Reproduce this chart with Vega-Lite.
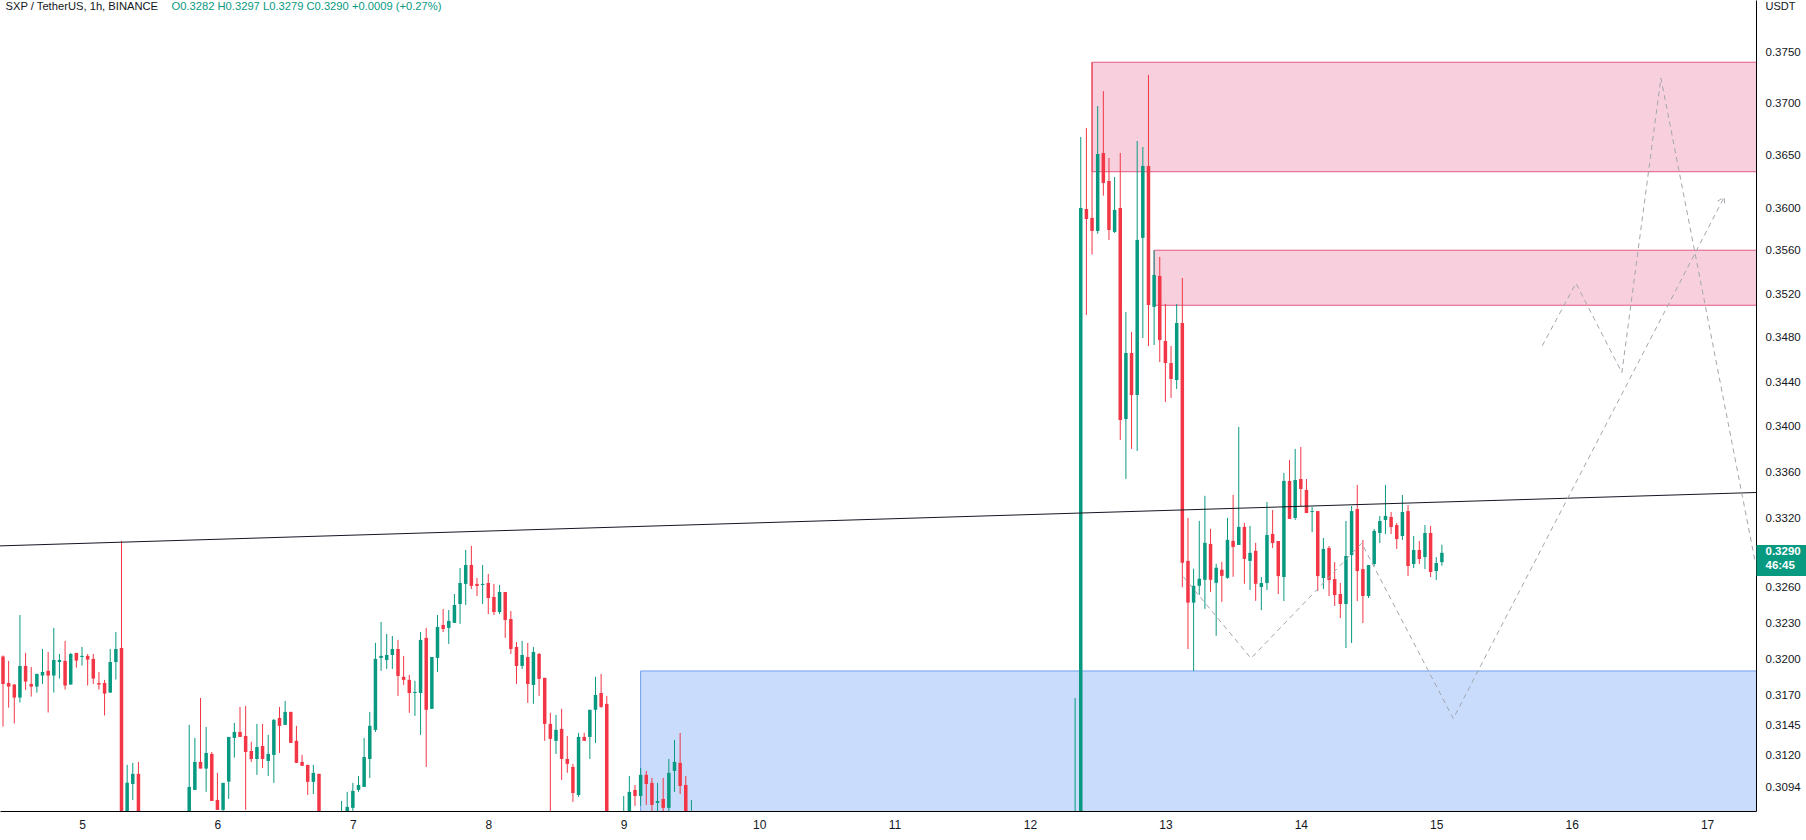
{
  "$schema": "https://vega.github.io/schema/vega-lite/v6.json",
  "width": 1756,
  "height": 811,
  "autosize": {"type": "none"},
  "padding": {"left": 0, "top": 0, "right": 50, "bottom": 29},
  "background": "#ffffff",
  "config": {"view": {"stroke": null}, "font": "Liberation Sans"},
  "datasets": {
    "candles": [
      {"t":"2022-09-04T10:00","open":0.3202,"high":0.3203,"low":0.3144,"close":0.31792},
      {"t":"2022-09-04T11:00","open":0.318,"high":0.31984,"low":0.31596,"close":0.3177},
      {"t":"2022-09-04T12:00","open":0.31787,"high":0.31792,"low":0.31465,"close":0.31679},
      {"t":"2022-09-04T13:00","open":0.31679,"high":0.3237,"low":0.31638,"close":0.31942},
      {"t":"2022-09-04T14:00","open":0.31942,"high":0.32051,"low":0.31743,"close":0.31812},
      {"t":"2022-09-04T15:00","open":0.31792,"high":0.31934,"low":0.31687,"close":0.3177},
      {"t":"2022-09-04T16:00","open":0.3177,"high":0.31876,"low":0.3172,"close":0.31876},
      {"t":"2022-09-04T17:00","open":0.31862,"high":0.32084,"low":0.31792,"close":0.31892},
      {"t":"2022-09-04T18:00","open":0.31901,"high":0.32059,"low":0.31556,"close":0.31862},
      {"t":"2022-09-04T19:00","open":0.31862,"high":0.32261,"low":0.3172,"close":0.31992},
      {"t":"2022-09-04T20:00","open":0.31975,"high":0.32042,"low":0.31837,"close":0.31992},
      {"t":"2022-09-04T21:00","open":0.31984,"high":0.32152,"low":0.31745,"close":0.31779},
      {"t":"2022-09-04T22:00","open":0.31787,"high":0.32051,"low":0.31787,"close":0.32042},
      {"t":"2022-09-04T23:00","open":0.32051,"high":0.32051,"low":0.31928,"close":0.31987},
      {"t":"2022-09-05T00:00","open":0.32017,"high":0.32101,"low":0.31945,"close":0.32026},
      {"t":"2022-09-05T01:00","open":0.32026,"high":0.32042,"low":0.31779,"close":0.31995},
      {"t":"2022-09-05T02:00","open":0.32001,"high":0.32042,"low":0.31792,"close":0.31837},
      {"t":"2022-09-05T03:00","open":0.318,"high":0.31892,"low":0.31745,"close":0.31787},
      {"t":"2022-09-05T04:00","open":0.318,"high":0.31826,"low":0.31531,"close":0.31712},
      {"t":"2022-09-05T05:00","open":0.3172,"high":0.32084,"low":0.3172,"close":0.31975},
      {"t":"2022-09-05T06:00","open":0.31975,"high":0.32227,"low":0.31829,"close":0.32084},
      {"t":"2022-09-05T07:00","open":0.32093,"high":0.33004,"low":0.304,"close":0.305},
      {"t":"2022-09-05T08:00","open":0.305,"high":0.31127,"low":0.3045,"close":0.30981},
      {"t":"2022-09-05T09:00","open":0.30972,"high":0.31143,"low":0.30843,"close":0.31054},
      {"t":"2022-09-05T10:00","open":0.31054,"high":0.31151,"low":0.305,"close":0.306},
      {"t":"2022-09-05T19:00","open":0.307,"high":0.31454,"low":0.306,"close":0.30948},
      {"t":"2022-09-05T20:00","open":0.30924,"high":0.31347,"low":0.30924,"close":0.31151},
      {"t":"2022-09-05T21:00","open":0.31151,"high":0.31676,"low":0.31097,"close":0.31097},
      {"t":"2022-09-05T22:00","open":0.31097,"high":0.31437,"low":0.30908,"close":0.31224},
      {"t":"2022-09-05T23:00","open":0.31216,"high":0.31232,"low":0.30835,"close":0.30835},
      {"t":"2022-09-06T00:00","open":0.30843,"high":0.31062,"low":0.30763,"close":0.30763},
      {"t":"2022-09-06T01:00","open":0.30763,"high":0.30981,"low":0.30755,"close":0.30981},
      {"t":"2022-09-06T02:00","open":0.30991,"high":0.31355,"low":0.30851,"close":0.31355},
      {"t":"2022-09-06T03:00","open":0.31347,"high":0.3147,"low":0.31186,"close":0.31396},
      {"t":"2022-09-06T04:00","open":0.31396,"high":0.31602,"low":0.31355,"close":0.31355},
      {"t":"2022-09-06T05:00","open":0.31363,"high":0.3161,"low":0.30763,"close":0.31232},
      {"t":"2022-09-06T06:00","open":0.3124,"high":0.31315,"low":0.31151,"close":0.31175},
      {"t":"2022-09-06T07:00","open":0.31175,"high":0.31462,"low":0.31046,"close":0.31273},
      {"t":"2022-09-06T08:00","open":0.31281,"high":0.31462,"low":0.31102,"close":0.31175},
      {"t":"2022-09-06T09:00","open":0.31159,"high":0.31372,"low":0.31037,"close":0.31216},
      {"t":"2022-09-06T10:00","open":0.31208,"high":0.31503,"low":0.30981,"close":0.31495},
      {"t":"2022-09-06T11:00","open":0.31511,"high":0.31602,"low":0.31224,"close":0.31446},
      {"t":"2022-09-06T12:00","open":0.31454,"high":0.31651,"low":0.31454,"close":0.31561},
      {"t":"2022-09-06T13:00","open":0.31561,"high":0.31561,"low":0.31306,"close":0.31306},
      {"t":"2022-09-06T14:00","open":0.31323,"high":0.31446,"low":0.31143,"close":0.31143},
      {"t":"2022-09-06T15:00","open":0.31151,"high":0.31208,"low":0.31119,"close":0.31119},
      {"t":"2022-09-06T16:00","open":0.31127,"high":0.31127,"low":0.30883,"close":0.30989},
      {"t":"2022-09-06T17:00","open":0.30989,"high":0.31127,"low":0.30891,"close":0.31062},
      {"t":"2022-09-06T18:00","open":0.31054,"high":0.31054,"low":0.304,"close":0.305},
      {"t":"2022-09-06T22:00","open":0.3058,"high":0.30835,"low":0.3052,"close":0.3068},
      {"t":"2022-09-06T23:00","open":0.3068,"high":0.30908,"low":0.3062,"close":0.30787},
      {"t":"2022-09-07T00:00","open":0.30779,"high":0.30981,"low":0.307,"close":0.30916},
      {"t":"2022-09-07T01:00","open":0.30924,"high":0.31037,"low":0.30908,"close":0.30964},
      {"t":"2022-09-07T02:00","open":0.30948,"high":0.31347,"low":0.30948,"close":0.31191},
      {"t":"2022-09-07T03:00","open":0.31175,"high":0.31561,"low":0.31021,"close":0.31446},
      {"t":"2022-09-07T04:00","open":0.31413,"high":0.32135,"low":0.31396,"close":0.32001},
      {"t":"2022-09-07T05:00","open":0.32009,"high":0.32311,"low":0.31901,"close":0.32026},
      {"t":"2022-09-07T06:00","open":0.31992,"high":0.3221,"low":0.31917,"close":0.32034},
      {"t":"2022-09-07T07:00","open":0.32034,"high":0.32193,"low":0.31917,"close":0.32084},
      {"t":"2022-09-07T08:00","open":0.32084,"high":0.3216,"low":0.31693,"close":0.31859},
      {"t":"2022-09-07T09:00","open":0.31851,"high":0.32026,"low":0.31784,"close":0.31826},
      {"t":"2022-09-07T10:00","open":0.31826,"high":0.31868,"low":0.31553,"close":0.31717},
      {"t":"2022-09-07T11:00","open":0.31717,"high":0.31818,"low":0.31528,"close":0.31726},
      {"t":"2022-09-07T12:00","open":0.31717,"high":0.32227,"low":0.31372,"close":0.3216},
      {"t":"2022-09-07T13:00","open":0.32177,"high":0.32261,"low":0.3111,"close":0.31578},
      {"t":"2022-09-07T14:00","open":0.31586,"high":0.32017,"low":0.31586,"close":0.32017},
      {"t":"2022-09-07T15:00","open":0.32009,"high":0.3237,"low":0.31892,"close":0.32269},
      {"t":"2022-09-07T16:00","open":0.32286,"high":0.32421,"low":0.32227,"close":0.32252},
      {"t":"2022-09-07T17:00","open":0.32261,"high":0.32412,"low":0.32126,"close":0.3232},
      {"t":"2022-09-07T18:00","open":0.32303,"high":0.32548,"low":0.32303,"close":0.32455},
      {"t":"2022-09-07T19:00","open":0.32463,"high":0.3277,"low":0.32295,"close":0.32642},
      {"t":"2022-09-07T20:00","open":0.32634,"high":0.32925,"low":0.32455,"close":0.32796},
      {"t":"2022-09-07T21:00","open":0.32796,"high":0.3296,"low":0.32591,"close":0.32617},
      {"t":"2022-09-07T22:00","open":0.32634,"high":0.32685,"low":0.32531,"close":0.32617},
      {"t":"2022-09-07T23:00","open":0.32625,"high":0.32796,"low":0.32463,"close":0.32634},
      {"t":"2022-09-08T00:00","open":0.32642,"high":0.32719,"low":0.32378,"close":0.32514},
      {"t":"2022-09-08T01:00","open":0.32523,"high":0.32634,"low":0.3237,"close":0.32395},
      {"t":"2022-09-08T02:00","open":0.32395,"high":0.32625,"low":0.32378,"close":0.32565},
      {"t":"2022-09-08T03:00","open":0.32565,"high":0.32565,"low":0.32177,"close":0.32328},
      {"t":"2022-09-08T04:00","open":0.32336,"high":0.32404,"low":0.32042,"close":0.32084},
      {"t":"2022-09-08T05:00","open":0.32101,"high":0.32143,"low":0.31792,"close":0.31942},
      {"t":"2022-09-08T06:00","open":0.31942,"high":0.32152,"low":0.31917,"close":0.32034},
      {"t":"2022-09-08T07:00","open":0.32017,"high":0.32135,"low":0.31635,"close":0.31792},
      {"t":"2022-09-08T08:00","open":0.31784,"high":0.32101,"low":0.31627,"close":0.32059},
      {"t":"2022-09-08T09:00","open":0.32042,"high":0.32051,"low":0.31693,"close":0.31834},
      {"t":"2022-09-08T10:00","open":0.31843,"high":0.31843,"low":0.31323,"close":0.31462},
      {"t":"2022-09-08T11:00","open":0.31462,"high":0.31553,"low":0.3073,"close":0.31339},
      {"t":"2022-09-08T12:00","open":0.31323,"high":0.31536,"low":0.31216,"close":0.31413},
      {"t":"2022-09-08T13:00","open":0.31421,"high":0.31586,"low":0.31005,"close":0.31175},
      {"t":"2022-09-08T14:00","open":0.31175,"high":0.31363,"low":0.31062,"close":0.31135},
      {"t":"2022-09-08T15:00","open":0.3111,"high":0.31135,"low":0.30827,"close":0.30899},
      {"t":"2022-09-08T16:00","open":0.30883,"high":0.31388,"low":0.30867,"close":0.31355},
      {"t":"2022-09-08T17:00","open":0.31355,"high":0.31388,"low":0.31323,"close":0.31323},
      {"t":"2022-09-08T18:00","open":0.31355,"high":0.31578,"low":0.31175,"close":0.31578},
      {"t":"2022-09-08T19:00","open":0.31578,"high":0.31851,"low":0.31306,"close":0.31701},
      {"t":"2022-09-08T20:00","open":0.31717,"high":0.31876,"low":0.31594,"close":0.31602},
      {"t":"2022-09-08T21:00","open":0.31627,"high":0.31693,"low":0.305,"close":0.306},
      {"t":"2022-09-09T00:00","open":0.3062,"high":0.30875,"low":0.3058,"close":0.307},
      {"t":"2022-09-09T01:00","open":0.307,"high":0.31037,"low":0.3065,"close":0.30908},
      {"t":"2022-09-09T02:00","open":0.30924,"high":0.30964,"low":0.30795,"close":0.30875},
      {"t":"2022-09-09T03:00","open":0.30875,"high":0.31102,"low":0.30795,"close":0.31046},
      {"t":"2022-09-09T04:00","open":0.31046,"high":0.31078,"low":0.30803,"close":0.30972},
      {"t":"2022-09-09T05:00","open":0.30981,"high":0.31021,"low":0.3074,"close":0.30803},
      {"t":"2022-09-09T06:00","open":0.30819,"high":0.30981,"low":0.3074,"close":0.30835},
      {"t":"2022-09-09T07:00","open":0.30851,"high":0.31021,"low":0.3074,"close":0.30779},
      {"t":"2022-09-09T08:00","open":0.30779,"high":0.31175,"low":0.3073,"close":0.31062},
      {"t":"2022-09-09T09:00","open":0.31078,"high":0.31331,"low":0.30908,"close":0.31151},
      {"t":"2022-09-09T10:00","open":0.31143,"high":0.31388,"low":0.30891,"close":0.30956},
      {"t":"2022-09-09T11:00","open":0.30964,"high":0.31037,"low":0.305,"close":0.306},
      {"t":"2022-09-09T12:00","open":0.3058,"high":0.30843,"low":0.305,"close":0.3068},
      {"t":"2022-09-12T08:00","open":0.304,"high":0.31676,"low":0.303,"close":0.3055},
      {"t":"2022-09-12T09:00","open":0.3055,"high":0.36676,"low":0.3045,"close":0.36003},
      {"t":"2022-09-12T10:00","open":0.35993,"high":0.36763,"low":0.3501,"close":0.35899},
      {"t":"2022-09-12T11:00","open":0.35909,"high":0.374,"low":0.35567,"close":0.35787},
      {"t":"2022-09-12T12:00","open":0.35787,"high":0.36975,"low":0.35762,"close":0.36514},
      {"t":"2022-09-12T13:00","open":0.36523,"high":0.37119,"low":0.36119,"close":0.36238},
      {"t":"2022-09-12T14:00","open":0.36257,"high":0.36476,"low":0.35703,"close":0.35796},
      {"t":"2022-09-12T15:00","open":0.35778,"high":0.36295,"low":0.35768,"close":0.35984},
      {"t":"2022-09-12T16:00","open":0.36003,"high":0.36523,"low":0.33885,"close":0.34062},
      {"t":"2022-09-12T17:00","open":0.34071,"high":0.35038,"low":0.33542,"close":0.34664},
      {"t":"2022-09-12T18:00","open":0.34664,"high":0.34854,"low":0.33806,"close":0.34285},
      {"t":"2022-09-12T19:00","open":0.34285,"high":0.36638,"low":0.33788,"close":0.35703},
      {"t":"2022-09-12T20:00","open":0.35722,"high":0.36581,"low":0.348,"close":0.364},
      {"t":"2022-09-12T21:00","open":0.364,"high":0.37276,"low":0.34727,"close":0.35102},
      {"t":"2022-09-12T22:00","open":0.35084,"high":0.35607,"low":0.34736,"close":0.35378},
      {"t":"2022-09-12T23:00","open":0.35369,"high":0.35545,"low":0.34582,"close":0.34782},
      {"t":"2022-09-13T00:00","open":0.34773,"high":0.35111,"low":0.34223,"close":0.34573},
      {"t":"2022-09-13T01:00","open":0.34573,"high":0.34727,"low":0.34259,"close":0.34429},
      {"t":"2022-09-13T02:00","open":0.3442,"high":0.35111,"low":0.34339,"close":0.34937},
      {"t":"2022-09-13T03:00","open":0.34937,"high":0.3535,"low":0.32606,"close":0.32816},
      {"t":"2022-09-13T04:00","open":0.32831,"high":0.33202,"low":0.32083,"close":0.32475},
      {"t":"2022-09-13T05:00","open":0.32475,"high":0.32764,"low":0.319,"close":0.32618},
      {"t":"2022-09-13T06:00","open":0.32618,"high":0.33176,"low":0.32541,"close":0.32678},
      {"t":"2022-09-13T07:00","open":0.32669,"high":0.33394,"low":0.32422,"close":0.32986},
      {"t":"2022-09-13T08:00","open":0.32977,"high":0.33107,"low":0.32566,"close":0.32669},
      {"t":"2022-09-13T09:00","open":0.32643,"high":0.32806,"low":0.32195,"close":0.32772},
      {"t":"2022-09-13T10:00","open":0.32755,"high":0.32823,"low":0.32481,"close":0.32703},
      {"t":"2022-09-13T11:00","open":0.32686,"high":0.33202,"low":0.32678,"close":0.33012},
      {"t":"2022-09-13T12:00","open":0.33003,"high":0.33402,"low":0.32695,"close":0.32951},
      {"t":"2022-09-13T13:00","open":0.32968,"high":0.34001,"low":0.32968,"close":0.33124},
      {"t":"2022-09-13T14:00","open":0.33124,"high":0.33159,"low":0.32635,"close":0.32848},
      {"t":"2022-09-13T15:00","open":0.32831,"high":0.33133,"low":0.32582,"close":0.329},
      {"t":"2022-09-13T16:00","open":0.32917,"high":0.32986,"low":0.3249,"close":0.32635},
      {"t":"2022-09-13T17:00","open":0.32608,"high":0.32693,"low":0.32412,"close":0.32642},
      {"t":"2022-09-13T18:00","open":0.32642,"high":0.3334,"low":0.32582,"close":0.33054},
      {"t":"2022-09-13T19:00","open":0.33063,"high":0.3327,"low":0.32942,"close":0.32985},
      {"t":"2022-09-13T20:00","open":0.33002,"high":0.33002,"low":0.32548,"close":0.32701},
      {"t":"2022-09-13T21:00","open":0.32693,"high":0.33594,"low":0.32488,"close":0.33524},
      {"t":"2022-09-13T22:00","open":0.33524,"high":0.33709,"low":0.33193,"close":0.33193},
      {"t":"2022-09-13T23:00","open":0.33201,"high":0.33806,"low":0.33184,"close":0.33532},
      {"t":"2022-09-14T00:00","open":0.33541,"high":0.33823,"low":0.33305,"close":0.33454},
      {"t":"2022-09-14T01:00","open":0.33445,"high":0.33541,"low":0.33244,"close":0.33244},
      {"t":"2022-09-14T02:00","open":0.33253,"high":0.33296,"low":0.33078,"close":0.33261},
      {"t":"2022-09-14T03:00","open":0.33261,"high":0.33261,"low":0.32573,"close":0.32701},
      {"t":"2022-09-14T04:00","open":0.32684,"high":0.33028,"low":0.32591,"close":0.32934},
      {"t":"2022-09-14T05:00","open":0.32942,"high":0.32959,"low":0.32531,"close":0.32667},
      {"t":"2022-09-14T06:00","open":0.32675,"high":0.32821,"low":0.32446,"close":0.32539},
      {"t":"2022-09-14T07:00","open":0.32548,"high":0.32642,"low":0.32344,"close":0.32463},
      {"t":"2022-09-14T08:00","open":0.32463,"high":0.33175,"low":0.32092,"close":0.32873},
      {"t":"2022-09-14T09:00","open":0.32881,"high":0.33305,"low":0.32134,"close":0.33261},
      {"t":"2022-09-14T10:00","open":0.33279,"high":0.33489,"low":0.32488,"close":0.32744},
      {"t":"2022-09-14T11:00","open":0.32761,"high":0.33011,"low":0.32302,"close":0.32531},
      {"t":"2022-09-14T12:00","open":0.32531,"high":0.32795,"low":0.32514,"close":0.32795},
      {"t":"2022-09-14T13:00","open":0.32804,"high":0.33106,"low":0.32787,"close":0.33089},
      {"t":"2022-09-14T14:00","open":0.33071,"high":0.33218,"low":0.32985,"close":0.33175},
      {"t":"2022-09-14T15:00","open":0.33184,"high":0.33489,"low":0.33063,"close":0.33218},
      {"t":"2022-09-14T16:00","open":0.3321,"high":0.33253,"low":0.33063,"close":0.33123},
      {"t":"2022-09-14T17:00","open":0.3314,"high":0.33158,"low":0.32934,"close":0.33019},
      {"t":"2022-09-14T18:00","open":0.33045,"high":0.33401,"low":0.33011,"close":0.33253},
      {"t":"2022-09-14T19:00","open":0.33261,"high":0.33313,"low":0.32701,"close":0.32787},
      {"t":"2022-09-14T20:00","open":0.32804,"high":0.33045,"low":0.3277,"close":0.32925},
      {"t":"2022-09-14T21:00","open":0.32925,"high":0.33002,"low":0.32804,"close":0.32847},
      {"t":"2022-09-14T22:00","open":0.32864,"high":0.3314,"low":0.32761,"close":0.33071},
      {"t":"2022-09-14T23:00","open":0.33071,"high":0.33132,"low":0.32693,"close":0.32736},
      {"t":"2022-09-15T00:00","open":0.32744,"high":0.32864,"low":0.32667,"close":0.32813},
      {"t":"2022-09-15T01:00","open":0.3282,"high":0.3297,"low":0.3279,"close":0.329}
    ],
    "zones": [
      {"kind":"demand","t":"2022-09-09T03:00","t2":"2022-09-18T00:00","lo":0.3,"hi":0.319},
      {"kind":"supply","t":"2022-09-12T11:00","t2":"2022-09-18T00:00","lo":0.36345,"hi":0.374},
      {"kind":"supply","t":"2022-09-12T22:00","t2":"2022-09-18T00:00","lo":0.35099,"hi":0.35607}
    ],
    "trend": [
      {"t":"2022-09-04T09:28","p":0.3296},
      {"t":"2022-09-17T08:40","p":0.33423}
    ],
    "paths": [
      {"path":"a","t":"2022-09-15T18:47","p":0.34729},
      {"path":"a","t":"2022-09-16T00:45","p":0.35301},
      {"path":"a","t":"2022-09-16T08:54","p":0.34487},
      {"path":"a","t":"2022-09-16T15:49","p":0.37246},
      {"path":"a","t":"2022-09-17T08:32","p":0.32819},
      {"path":"b","t":"2022-09-13T03:10","p":0.32696},
      {"path":"b","t":"2022-09-13T15:10","p":0.32006},
      {"path":"b","t":"2022-09-14T10:47","p":0.32983},
      {"path":"b","t":"2022-09-15T03:01","p":0.31506},
      {"path":"b","t":"2022-09-17T03:02","p":0.36105},
      {"path":"c","t":"2022-09-17T01:51","p":0.36065},
      {"path":"c","t":"2022-09-17T03:02","p":0.36105},
      {"path":"c","t":"2022-09-17T03:07","p":0.3603}
    ]
  },
  "encoding": {
    "x": {
      "field": "t",
      "type": "temporal",
      "scale": {
        "domain": [
          {"year": 2022, "month": 9, "date": 4, "hours": 9, "minutes": 28},
          {"year": 2022, "month": 9, "date": 17, "hours": 8, "minutes": 40}
        ],
        "nice": false,
        "padding": 0
      },
      "axis": {
        "format": "%-d",
        "tickCount": {"interval": "day", "step": 1},
        "ticks": false,
        "grid": false,
        "labelPadding": 8,
        "labelFontSize": 12,
        "labelColor": "#131722",
        "labelFlush": false,
        "labelOverlap": false,
        "domainColor": "#000000",
        "title": "SXP / TetherUS, 1h, BINANCE",
        "titleX": 5,
        "titleY": -805,
        "titleAlign": "left",
        "titleBaseline": "middle",
        "titleFontSize": 11.2,
        "titleFontWeight": "normal",
        "titleColor": "#131722"
      }
    }
  },
  "layer": [
    {
      "data": {"name": "zones"},
      "mark": {"type": "rect", "clip": true, "strokeWidth": 1},
      "encoding": {
        "x2": {"field": "t2"},
        "y": {"field": "lo", "type": "quantitative", "scale": {"type": "log", "domain": [0.30754, 0.38013], "nice": false, "zero": false}, "axis": null},
        "y2": {"field": "hi"},
        "fill": {"field": "kind", "type": "nominal", "scale": {"domain": ["demand", "supply"], "range": ["#cadcfb", "#f8d0dd"]}, "legend": null},
        "stroke": {"field": "kind", "type": "nominal", "scale": {"domain": ["demand", "supply"], "range": ["#6e9ff2", "#e05a82"]}, "legend": null}
      }
    },
    {
      "data": {"name": "candles"},
      "mark": {"type": "rule", "clip": true, "strokeWidth": 1},
      "encoding": {
        "y": {
          "field": "low", "type": "quantitative",
          "scale": {"type": "log", "domain": [0.30754, 0.38013], "nice": false, "zero": false},
          "axis": {
            "orient": "right",
            "values": [0.375, 0.37, 0.365, 0.36, 0.356, 0.352, 0.348, 0.344, 0.34, 0.336, 0.332, 0.326, 0.323, 0.32, 0.317, 0.3145, 0.312, 0.3094],
            "format": ".4f",
            "ticks": false,
            "grid": false,
            "labelPadding": 9,
            "labelFontSize": 11.5,
            "labelColor": "#131722",
            "labelOverlap": false,
            "labelBound": false,
            "domainColor": "#000000",
            "title": "USDT",
            "titleAngle": 0,
            "titleX": 9,
            "titleY": 6,
            "titleAlign": "left",
            "titleBaseline": "middle",
            "titleFontSize": 11,
            "titleFontWeight": "normal",
            "titleColor": "#131722"
          }
        },
        "y2": {"field": "high"},
        "color": {"condition": {"test": "datum.close >= datum.open", "value": "#089981"}, "value": "#f23645"}
      }
    },
    {
      "data": {"name": "candles"},
      "mark": {"type": "bar", "clip": true, "size": 3.5, "minBandSize": 1},
      "encoding": {
        "y": {
          "field": "open", "type": "quantitative",
          "scale": {"type": "log", "domain": [0.30754, 0.38013], "nice": false, "zero": false},
          "axis": {
            "orient": "right",
            "values": [0.329],
            "labelExpr": "['0.3290', '46:45']",
            "domain": false,
            "grid": false,
            "ticks": true,
            "tickSize": 50,
            "tickWidth": 31,
            "tickColor": "#089981",
            "tickOffset": 7.5,
            "labelColor": "#ffffff",
            "labelFontWeight": "bold",
            "labelFontSize": 11.5,
            "labelBaseline": "top",
            "labelOffset": -14.5,
            "labelLineHeight": 14,
            "labelPadding": -41,
            "labelAlign": "left",
            "labelOverlap": false,
            "labelBound": false,
            "title": "O0.3282  H0.3297  L0.3279  C0.3290  +0.0009 (+0.27%)",
            "titleAngle": 0,
            "titleX": -1585,
            "titleY": 6,
            "titleAlign": "left",
            "titleBaseline": "middle",
            "titleFontSize": 11.2,
            "titleFontWeight": "normal",
            "titleColor": "#089981"
          }
        },
        "y2": {"field": "close"},
        "color": {"condition": {"test": "datum.close >= datum.open", "value": "#089981"}, "value": "#f23645"}
      }
    },
    {
      "data": {"name": "trend"},
      "mark": {"type": "line", "clip": true, "color": "#131722", "strokeWidth": 1},
      "encoding": {
        "y": {"field": "p", "type": "quantitative", "scale": {"type": "log", "domain": [0.30754, 0.38013], "nice": false, "zero": false}, "axis": null}
      }
    },
    {
      "data": {"name": "paths"},
      "mark": {"type": "line", "clip": true, "color": "#a3a6af", "strokeWidth": 1, "strokeDash": [5, 4]},
      "encoding": {
        "y": {"field": "p", "type": "quantitative", "scale": {"type": "log", "domain": [0.30754, 0.38013], "nice": false, "zero": false}, "axis": null},
        "detail": {"field": "path", "type": "nominal"}
      }
    }
  ],
  "resolve": {"scale": {"y": "shared"}, "axis": {"y": "independent"}}
}
